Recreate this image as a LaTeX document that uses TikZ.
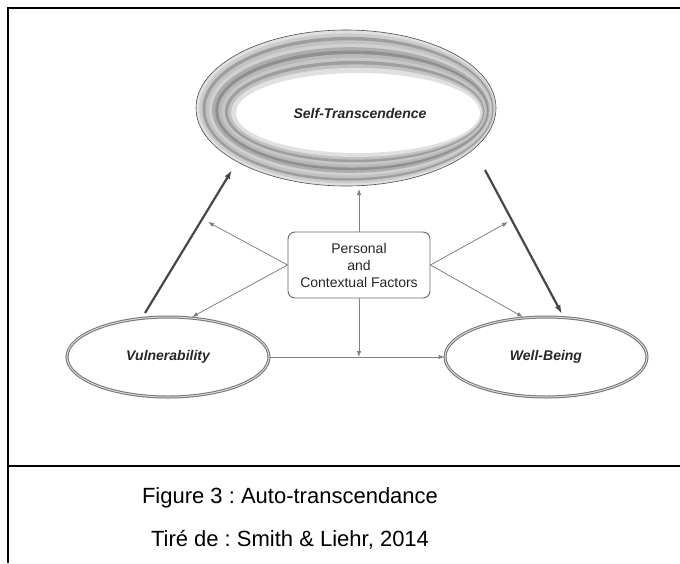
\documentclass[tikz,border=0pt]{standalone}
\usepackage{fontspec}
\setmainfont{Liberation Sans}
\usetikzlibrary{shapes.geometric,arrows.meta}
\frenchspacing
\begin{document}
\begin{tikzpicture}[x=1pt,y=-1pt,
  thinarrow/.style={draw=black!50, line width=0.8pt, -{Latex[length=6pt,width=4.5pt]}},
  thickarrow/.style={draw=black!72, line width=2.2pt, -{Latex[length=9pt,width=6pt]}},
  oval/.style={ellipse, draw=black!55, line width=1pt, double=black!15, double distance=1pt,
    minimum width=202pt, minimum height=80pt, inner sep=0pt,
    font=\fontsize{14}{16}\selectfont\bfseries\itshape, text=black!85},
  framerule/.style={line width=2pt, draw=black},
  captext/.style={font=\fontsize{22}{26}\selectfont},
  boxstyle/.style={draw=black!60, line width=0.9pt, rounded corners=7pt,
    minimum width=142pt, minimum height=66pt, align=center,
    font=\fontsize{14}{17}\selectfont, text=black!85}]
\useasboundingbox (0,0) rectangle (680,563);
% frame
\draw[framerule] (8,563) -- (8,7.5) -- (680,7.5);
\draw[framerule] (8,466) -- (680,466);
% ring of Self-Transcendence
\foreach \t/\g in {0/12, 0.08/20, 0.16/38, 0.24/24, 0.32/18, 0.40/32, 0.48/44, 0.56/28, 0.64/22, 0.72/38, 0.80/24, 0.88/12}{
  \fill[black!\g] ({346+12*\t},{108+5*\t}) ellipse [x radius={150-28*\t}, y radius={78-38*\t}];
}
\fill[white] (358,113) ellipse [x radius=122, y radius=40];
\draw[black!70, line width=0.6pt] (346,108) ellipse [x radius=150, y radius=78];
\node[font=\fontsize{14}{16}\selectfont\bfseries\itshape, text=black!85] (st) at (360,113) {Self-Transcendence};
% other nodes
\node[oval] (vul) at (168,357) {Vulnerability};
\node[oval] (wb) at (546,357) {Well-Being};
\node[boxstyle] (pc) at (359,265) {Personal\\and\\Contextual Factors};
% free ends
\coordinate (stbot) at (359,189);
\coordinate (hline) at (359,357);
\coordinate (vulT) at (145,313);
\coordinate (stL) at (232,170);
\coordinate (stR) at (485,170);
\coordinate (wbT) at (562,314);
\coordinate (luEnd) at (208,222);
\coordinate (ldEnd) at (192,317);
\coordinate (ruEnd) at (508,222);
\coordinate (rdEnd) at (523,317);
% connectors
\draw[thickarrow] (vulT) -- (stL);
\draw[thickarrow] (stR) -- (wbT);
\draw[thinarrow] (vul.east) -- (wb.west);
\draw[thinarrow] (pc.north) -- (stbot);
\draw[thinarrow] (pc.south) -- (hline);
\draw[thinarrow] (pc.west) -- (luEnd);
\draw[thinarrow] (pc.west) -- (ldEnd);
\draw[thinarrow] (pc.east) -- (ruEnd);
\draw[thinarrow] (pc.east) -- (rdEnd);
% caption
\node[captext] (cap1) at (290,498) {Figure 3 : Auto-transcendance};
\node[captext] (cap2) at (290,540) {Tiré de : Smith \& Liehr, 2014};
\end{tikzpicture}
\end{document}
